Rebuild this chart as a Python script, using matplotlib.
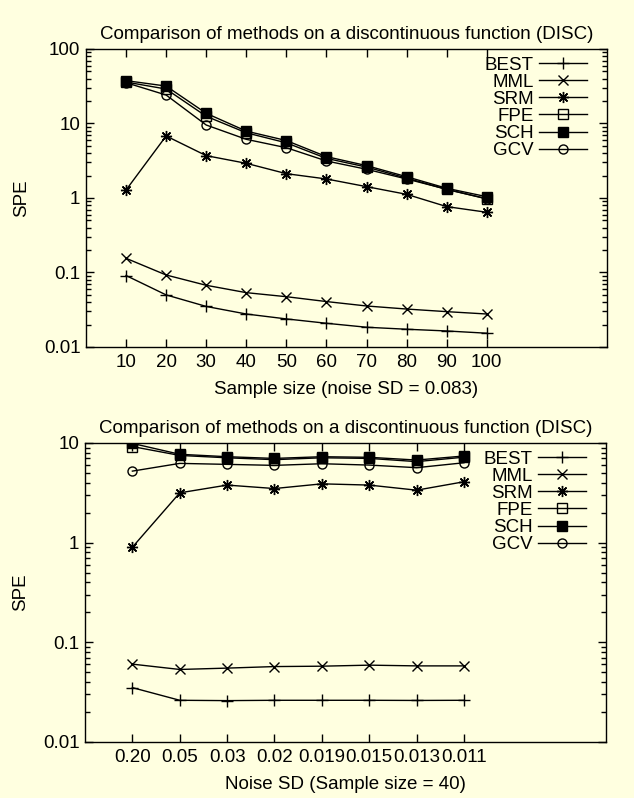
import matplotlib
matplotlib.use('Agg')
import matplotlib.pyplot as plt
from matplotlib.ticker import FixedLocator, LogLocator, NullFormatter, FuncFormatter

plt.rcParams['font.family'] = ['Liberation Sans', 'DejaVu Sans']
plt.rcParams['font.size'] = 13.5

# top panel: sample size vs SPE (noise SD = 0.083)
sizes = [10, 20, 30, 40, 50, 60, 70, 80, 90, 100]
best1 = [0.091, 0.050, 0.035, 0.0277, 0.0238, 0.0208, 0.0184, 0.0173, 0.0164, 0.0153]
mml1 = [0.155, 0.0925, 0.0673, 0.0536, 0.0473, 0.0407, 0.0355, 0.0323, 0.0298, 0.0277]
srm1 = [1.28, 6.8, 3.7, 2.92, 2.12, 1.8, 1.42, 1.12, 0.766, 0.643]
fpe1 = [36.0, 29.0, 12.5, 7.5, 5.5, 3.4, 2.6, 1.85, 1.3, 0.98]
sch1 = [37.6, 31.8, 13.7, 7.9, 5.9, 3.59, 2.72, 1.93, 1.35, 1.04]
gcv1 = [35.3, 24.1, 9.54, 6.13, 4.73, 3.14, 2.43, 1.8, 1.31, 0.97]

# bottom panel: noise SD vs SPE (sample size = 40)
noise_labels = ['0.20', '0.05', '0.03', '0.02', '0.019', '0.015', '0.013', '0.011']
best2 = [0.0351, 0.0262, 0.026, 0.0262, 0.0262, 0.0262, 0.0261, 0.0262]
mml2 = [0.0604, 0.0534, 0.0551, 0.0571, 0.0576, 0.059, 0.058, 0.058]
srm2 = [0.90, 3.16, 3.78, 3.49, 3.89, 3.78, 3.36, 4.08]
fpe2 = [9.2, 7.5, 7.1, 6.8, 7.1, 7.0, 6.5, 7.2]
sch2 = [9.9, 7.7, 7.28, 7.0, 7.28, 7.18, 6.74, 7.4]
gcv2 = [5.22, 6.24, 6.1, 5.96, 6.19, 6.0, 5.65, 6.33]

names = ['BEST', 'MML', 'SRM', 'FPE', 'SCH', 'GCV']
markers = ['+', 'x', (8, 2, 0), 's', 's', 'o']
fills = ['full', 'full', 'full', 'none', 'full', 'none']
msizes = [8, 7, 8, 6.5, 7.5, 6.5]

bg = '#ffffe0'
title = 'Comparison of methods on a discontinuous function (DISC)'

fig = plt.figure(figsize=(6.34, 7.98), dpi=100, facecolor=bg)
ax1 = fig.add_axes([0.1356, 0.5652, 0.8218, 0.3734])
ax2 = fig.add_axes([0.1341, 0.0702, 0.8218, 0.3747])


def fmt(v, pos):
    if v >= 1:
        return '%d' % round(v)
    return ('%g' % v)


def style(ax, xlabel):
    ax.set_facecolor(bg)
    ax.set_yscale('log')
    ax.yaxis.set_major_formatter(FuncFormatter(fmt))
    ax.yaxis.set_minor_locator(LogLocator(base=10, subs=range(2, 10)))
    ax.yaxis.set_minor_formatter(NullFormatter())
    ax.tick_params(which='both', direction='in', top=True, right=True, width=1, pad=5)
    ax.tick_params(which='major', length=6)
    ax.tick_params(which='minor', length=3.5)
    ax.tick_params(axis='y', pad=4)
    ax.set_title(title, fontsize=13.5, pad=7)
    ax.set_ylabel('SPE')
    ax.set_xlabel(xlabel)
    ax.yaxis.set_label_coords(-0.107, 0.5)
    ax.xaxis.set_label_coords(0.5, -0.115)
    for s in ax.spines.values():
        s.set_linewidth(1)


for y, m, f, ms, n in zip([best1, mml1, srm1, fpe1, sch1, gcv1], markers, fills, msizes, names):
    ax1.plot(sizes, y, color='black', lw=1, marker=m, fillstyle=f, ms=ms, mew=1, label=n)
ax1.set_xlim(0, 130)
ax1.set_ylim(0.01, 100)
ax1.xaxis.set_major_locator(FixedLocator(sizes))
style(ax1, 'Sample size (noise SD = 0.083)')

pos = list(range(1, len(noise_labels) + 1))
for y, m, f, ms, n in zip([best2, mml2, srm2, fpe2, sch2, gcv2], markers, fills, msizes, names):
    ax2.plot(pos, y, color='black', lw=1, marker=m, fillstyle=f, ms=ms, mew=1, label=n)
ax2.set_xlim(0, 11)
ax2.set_ylim(0.01, 10)
ax2.set_xticks(pos)
ax2.set_xticklabels(noise_labels)
style(ax2, 'Noise SD (Sample size = 40)')

for ax in (ax1, ax2):
    ax.legend(loc='upper right', bbox_to_anchor=(0.962, 0.975), frameon=False,
              markerfirst=False, borderpad=0, borderaxespad=0, labelspacing=0,
              handlelength=2.55, handletextpad=0.32)

fig.savefig('out.png', dpi=100, facecolor=bg)
